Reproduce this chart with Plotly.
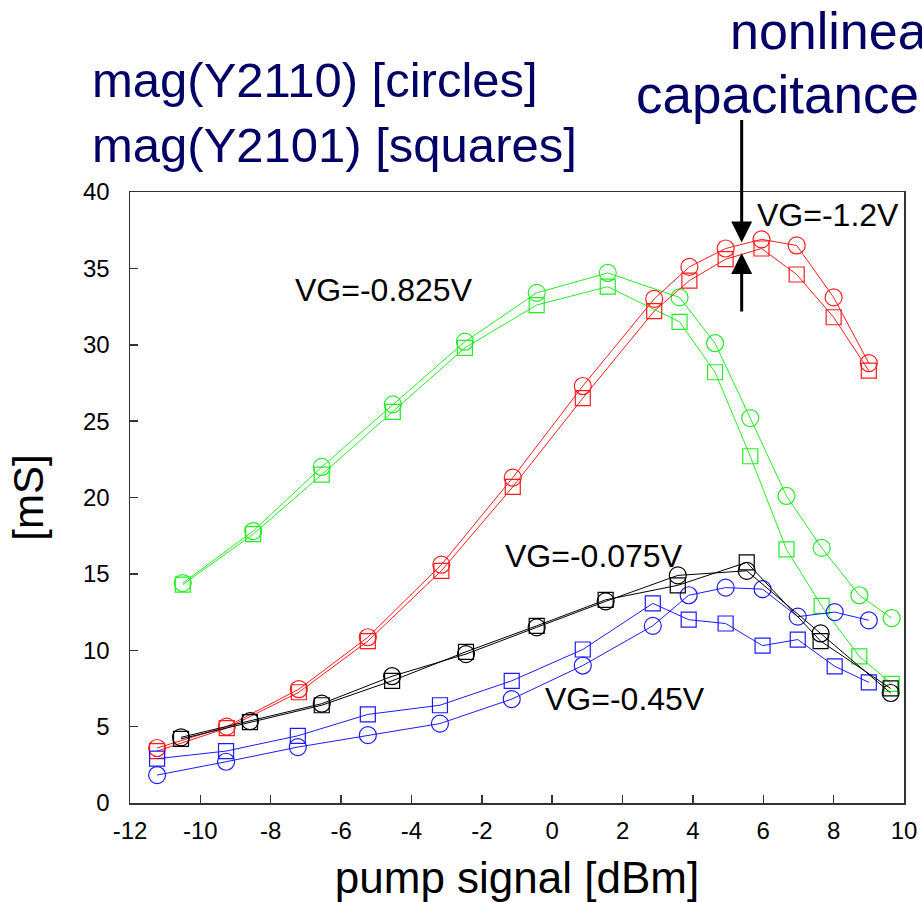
import plotly.graph_objects as go

# ---- data ----
# VG = -0.825 V (green)
x_g = [-10.5, -8.5, -6.55, -4.53, -2.48, -0.44, 1.58, 3.62, 4.63, 5.63, 6.66, 7.66, 8.73, 9.65]
g_circ = [14.4, 17.8, 22.0, 26.1, 30.2, 33.4, 34.7, 33.1, 30.1, 25.2, 20.1, 16.7, 13.6, 12.1]
g_sq = [14.3, 17.6, 21.5, 25.6, 29.8, 32.6, 33.8, 31.5, 28.2, 22.7, 16.6, 12.9, 9.6, 7.8]

# VG = -1.2 V (red)
x_r = [-11.23, -9.25, -7.2, -5.24, -3.15, -1.12, 0.87, 2.9, 3.9, 4.93, 5.95, 6.95, 8.0, 9.0]
r_circ = [3.6, 5.0, 7.45, 10.85, 15.6, 21.3, 27.3, 33.0, 35.1, 36.3, 36.9, 36.5, 33.1, 28.8]
r_sq = [3.4, 4.9, 7.25, 10.6, 15.2, 20.7, 26.5, 32.2, 34.2, 35.6, 36.3, 34.6, 31.8, 28.3]

# VG = -0.075 V (black)
x_k = [-10.55, -8.59, -6.55, -4.55, -2.45, -0.44, 1.52, 3.57, 5.53, 7.63, 9.62]
k_circ = [4.3, 5.36, 6.5, 8.3, 9.75, 11.5, 13.2, 14.9, 15.2, 11.1, 7.2]
k_sq = [4.2, 5.3, 6.4, 8.0, 9.9, 11.6, 13.3, 14.25, 15.75, 10.6, 7.5]

# VG = -0.45 V (blue)
x_b = [-11.23, -9.27, -7.23, -5.24, -3.19, -1.15, 0.87, 2.86, 3.88, 4.93, 5.98, 6.98, 8.03, 9.0]
b_circ = [1.83, 2.7, 3.66, 4.44, 5.2, 6.8, 9.0, 11.6, 13.6, 14.1, 14.0, 12.2, 12.5, 11.96]
b_sq = [2.9, 3.4, 4.4, 5.8, 6.4, 8.0, 10.05, 13.07, 12.0, 11.75, 10.3, 10.7, 8.95, 7.9]

x_ticks = [-12, -10, -8, -6, -4, -2, 0, 2, 4, 6, 8, 10]
y_ticks = [0, 5, 10, 15, 20, 25, 30, 35, 40]

GREEN = "#22ee22"
RED = "#ff1a1a"
BLACK = "#000000"
BLUE = "#1a1aff"
NAVY = "#000066"
FONT = "Liberation Sans, Arial, sans-serif"

fig = go.Figure()

series = [
    (x_g, g_circ, g_sq, GREEN),
    (x_r, r_circ, r_sq, RED),
    (x_b, b_circ, b_sq, BLUE),
    (x_k, k_circ, k_sq, BLACK),
]
for xs, yc, ys, col in series:
    fig.add_trace(go.Scatter(
        x=xs, y=yc, mode="lines+markers",
        line=dict(color=col, width=1),
        marker=dict(symbol="circle-open", size=17, color=col, line=dict(width=1.2, color=col)),
        showlegend=False, cliponaxis=False))
    fig.add_trace(go.Scatter(
        x=xs, y=ys, mode="lines+markers",
        line=dict(color=col, width=1),
        marker=dict(symbol="square-open", size=15, color=col, line=dict(width=1.2, color=col)),
        showlegend=False, cliponaxis=False))

L, R, T, B = 130, 18, 192, 99
W, H = 922, 902
pw, ph = W - L - R, H - T - B


def px(xp):
    return (xp - L) / pw


def py(yp):
    return (H - B - yp) / ph


annotations = [
    dict(text="mag(Y2110) [circles]", x=px(90), y=py(80), xref="paper", yref="paper",
         xanchor="left", yanchor="middle", showarrow=False, font=dict(size=49, color=NAVY, family=FONT)),
    dict(text="mag(Y2101) [squares]", x=px(90), y=py(145), xref="paper", yref="paper",
         xanchor="left", yanchor="middle", showarrow=False, font=dict(size=49, color=NAVY, family=FONT)),
    dict(text="nonlinear", x=px(728), y=py(31), xref="paper", yref="paper",
         xanchor="left", yanchor="middle", showarrow=False, font=dict(size=52, color=NAVY, family=FONT)),
    dict(text="capacitance", x=px(634), y=py(94), xref="paper", yref="paper",
         xanchor="left", yanchor="middle", showarrow=False, font=dict(size=53, color=NAVY, family=FONT)),
    dict(text="VG=-0.825V", x=-7.38, y=33.6, xref="x", yref="y", xanchor="left", yanchor="middle",
         showarrow=False, font=dict(size=32, color="black", family=FONT)),
    dict(text="VG=-1.2V", x=5.76, y=38.5, xref="x", yref="y", xanchor="left", yanchor="middle",
         showarrow=False, font=dict(size=32, color="black", family=FONT)),
    dict(text="VG=-0.075V", x=-1.4, y=16.2, xref="x", yref="y", xanchor="left", yanchor="middle",
         showarrow=False, font=dict(size=32, color="black", family=FONT)),
    dict(text="VG=-0.45V", x=-0.26, y=6.8, xref="x", yref="y", xanchor="left", yanchor="middle",
         showarrow=False, font=dict(size=32, color="black", family=FONT)),
    dict(text="", x=5.386, y=36.7, xref="x", yref="y", ax=0, ay=-124, axref="pixel", ayref="pixel",
         showarrow=True, arrowhead=2, arrowsize=1.4, arrowwidth=3, arrowcolor="black", standoff=0),
    dict(text="", x=5.386, y=36.0, xref="x", yref="y", ax=0, ay=60, axref="pixel", ayref="pixel",
         showarrow=True, arrowhead=2, arrowsize=1.4, arrowwidth=3, arrowcolor="black", standoff=0),
]

fig.update_layout(
    width=W, height=H,
    margin=dict(l=L, r=R, t=T, b=B, autoexpand=False),
    paper_bgcolor="white", plot_bgcolor="white",
    font=dict(family=FONT, color="black"),
    showlegend=False,
    annotations=annotations,
    xaxis=dict(
        range=[-12, 10], tickmode="array", tickvals=x_ticks, ticktext=[str(v) for v in x_ticks],
        ticks="inside", ticklen=8, tickwidth=1.5, tickcolor="#333",
        showline=True, linecolor="#333", linewidth=1.5, mirror=True,
        showgrid=False, zeroline=False,
        tickfont=dict(size=24, family=FONT, color="black"),
        ticklabelstandoff=6,
        title=dict(text="pump signal [dBm]", font=dict(size=44, family=FONT, color="black"), standoff=20),
        automargin=False,
    ),
    yaxis=dict(
        range=[0, 40], tickmode="array", tickvals=y_ticks, ticktext=[str(v) for v in y_ticks],
        ticks="inside", ticklen=8, tickwidth=1.5, tickcolor="#333",
        showline=True, linecolor="#333", linewidth=1.5, mirror=True,
        showgrid=False, zeroline=False,
        tickfont=dict(size=24, family=FONT, color="black"),
        ticklabelstandoff=14,
        title=dict(text="[mS]", font=dict(size=42, family=FONT, color="black"), standoff=26),
        automargin=False,
    ),
)

fig.write_html(
    "out.html",
    config={"displayModeBar": False, "staticPlot": True},
    post_script="document.body.style.margin='0';document.body.style.overflow='hidden';",
)
